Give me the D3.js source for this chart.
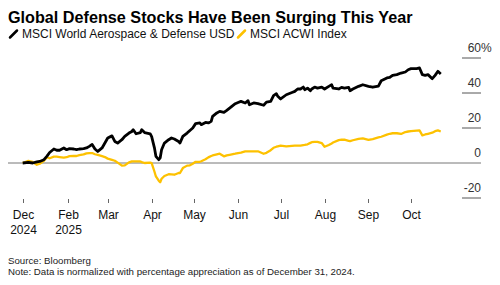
<!DOCTYPE html>
<html>
<head>
<meta charset="utf-8">
<script src="https://cdn.jsdelivr.net/npm/d3@7"></script>
<style>
  html, body { margin: 0; padding: 0; background: #fff; }
  svg { display: block; font-family: "Liberation Sans", Arial, Helvetica, sans-serif; }
</style>
</head>
<body>
<div id="chart"></div>
<script>
const title = "Global Defense Stocks Have Been Surging This Year";
const seriesNames = ["MSCI World Aerospace & Defense USD", "MSCI ACWI Index"];
const seriesColors = ["#000000", "#FDC100"];

const dates = [
  "2024-12-31","2025-01-04","2025-01-07","2025-01-10","2025-01-12","2025-01-15","2025-01-17","2025-01-19",
  "2025-01-22","2025-01-24","2025-01-26","2025-01-29","2025-01-31","2025-02-02","2025-02-05","2025-02-07",
  "2025-02-09","2025-02-12","2025-02-14","2025-02-16","2025-02-18","2025-02-20","2025-02-22","2025-02-25",
  "2025-02-27","2025-03-01","2025-03-04","2025-03-06","2025-03-08","2025-03-11","2025-03-13","2025-03-16",
  "2025-03-18","2025-03-19","2025-03-21","2025-03-24","2025-03-25","2025-03-27","2025-03-31","2025-04-01",
  "2025-04-03","2025-04-04","2025-04-06","2025-04-07","2025-04-08","2025-04-10","2025-04-13","2025-04-15",
  "2025-04-17","2025-04-20","2025-04-21","2025-04-23","2025-04-26","2025-04-28","2025-04-30","2025-05-02",
  "2025-05-05","2025-05-06","2025-05-09","2025-05-11","2025-05-13","2025-05-14","2025-05-17","2025-05-19",
  "2025-05-22","2025-05-24","2025-05-26","2025-05-30","2025-06-01","2025-06-03","2025-06-06","2025-06-08",
  "2025-06-09","2025-06-12","2025-06-15","2025-06-19","2025-06-21","2025-06-24","2025-06-26","2025-06-28",
  "2025-06-29","2025-07-01","2025-07-05","2025-07-09","2025-07-11","2025-07-13","2025-07-15","2025-07-17",
  "2025-07-18","2025-07-20","2025-07-22","2025-07-23","2025-07-25","2025-07-27","2025-07-30","2025-08-01",
  "2025-08-04","2025-08-06","2025-08-07","2025-08-11","2025-08-13","2025-08-15","2025-08-18","2025-08-19",
  "2025-08-21","2025-08-25","2025-08-28","2025-09-01","2025-09-04","2025-09-08","2025-09-10","2025-09-14",
  "2025-09-16","2025-09-18","2025-09-21","2025-09-24","2025-09-27","2025-09-29","2025-10-01","2025-10-05",
  "2025-10-07","2025-10-09","2025-10-11","2025-10-13","2025-10-16","2025-10-18","2025-10-20","2025-10-22"
];

const aerospace = [
  0, 0.3, 0, 0.6, 0.9, 1.9, 3.8, 6.0,
  8.0, 7.3, 7.3, 8.6, 7.6, 8.2, 8.0, 7.6,
  8.0, 8.2, 8.6, 9.5, 10.6, 8.0, 6.6, 8.6,
  11.4, 14.3, 15.5, 12.3, 11.4, 13.3, 15.2, 17.1,
  18.0, 19.0, 16.7, 17.4, 19.0, 17.4, 16.7, 15.1,
  8.5, 3.8, 1.9, 2.9, 7.6, 11.4, 13.3, 14.3,
  13.7, 12.3, 11.4, 15.2, 17.1, 18.6, 20.0, 22.5,
  22.9, 21.9, 23.2, 22.9, 23.8, 26.6, 28.6, 29.5,
  28.9, 30.1, 31.4, 33.9, 34.6, 35.2, 34.3, 35.6,
  33.3, 34.3, 33.9, 33.0, 34.8, 35.2, 38.5, 39.6,
  38.1, 36.6, 39.0, 40.3, 40.9, 42.3, 42.3, 43.4,
  41.9, 42.8, 41.3, 42.3, 43.4, 42.8, 43.4, 42.3,
  43.8, 44.7, 42.8, 42.3, 43.2, 42.8, 43.2, 41.3,
  42.3, 43.8, 44.7, 43.8, 43.3, 43.9, 47.0, 48.6,
  48.9, 50.1, 50.5, 51.4, 52.0, 53.3, 53.9, 53.9,
  54.3, 50.5, 50.1, 50.5, 48.2, 50.1, 52.4, 50.9
];

const acwi = [
  0, 1.2, 0.6, -1.0, -0.4, 1.3, 3.3, 2.7,
  3.6, 3.6, 3.4, 3.1, 3.3, 3.9, 4.0, 4.0,
  4.5, 4.9, 5.5, 5.7, 5.7, 5.0, 4.6, 3.9,
  3.4, 2.5, 1.8, 1.3, 0.2, -1.5, -1.4, 0.4,
  0.9, 0.9, 0.9, 0.9, 0.5, 0, 0.2, -0.1,
  -5.0, -7.7, -10.1, -11.0, -9.0, -7.4, -6.4, -6.5,
  -6.7, -5.7, -5.7, -2.9, -1.5, -1.3, -0.4, 0.7,
  0.7, 1.0, 2.1, 3.2, 4.0, 4.3, 4.9, 5.3,
  3.8, 4.4, 4.7, 5.3, 5.7, 5.9, 6.6, 6.6,
  6.6, 6.7, 6.7, 5.3, 5.8, 7.3, 8.7, 9.3,
  9.5, 9.9, 9.5, 9.8, 9.9, 9.9, 9.9, 10.2,
  10.3, 10.7, 11.5, 11.9, 12.1, 12.1, 11.4, 9.3,
  10.3, 11.2, 11.7, 13.1, 13.3, 13.3, 12.7, 12.5,
  13.0, 13.8, 14.1, 13.2, 13.7, 14.6, 15.0, 16.2,
  16.7, 17.0, 17.0, 16.6, 17.7, 18.0, 18.2, 18.5,
  18.6, 15.8, 16.3, 16.7, 17.3, 18.2, 18.6, 18.0
];

const xTickDates = ["2024-12-31","2025-02-01","2025-03-01","2025-04-01","2025-05-01","2025-06-01","2025-07-01","2025-08-01","2025-09-01","2025-10-01"];
const xTickMonths = ["Dec","Feb","Mar","Apr","May","Jun","Jul","Aug","Sep","Oct"];
const xTickYears = ["2024","2025","","","","","","","",""];
const yTicks = [60, 40, 20, 0, -20];
const sourceText = "Source: Bloomberg";
const noteText = "Note: Data is normalized with percentage appreciation as of December 31, 2024.";

const W = 500, H = 285;
const parse = d3.timeParse("%Y-%m-%d");
const svg = d3.select("#chart").append("svg").attr("width", W).attr("height", H);

const x = d3.scaleTime()
  .domain([parse("2024-12-31"), parse("2025-10-01")])
  .range([22.7, 411]);
const y = d3.scaleLinear().domain([-20, 60]).range([198, 58]);

// Title
svg.append("text").attr("x", 8).attr("y", 22.5)
  .attr("font-size", 16.2).attr("font-weight", "bold").attr("fill", "#000")
  .text(title);

// Legend
const legendX = [8, 236];
seriesNames.forEach((name, i) => {
  const g = svg.append("g").attr("transform", `translate(${legendX[i]},0)`);
  g.append("line").attr("x1", 2).attr("y1", 37.5).attr("x2", 9).attr("y2", 30.5)
    .attr("stroke", seriesColors[i]).attr("stroke-width", 2.5).attr("stroke-linecap", "round");
  g.append("text").attr("x", 14).attr("y", 37.5).attr("font-size", 12).attr("fill", "#111").text(name);
});

// Y axis (right)
const yAxis = svg.append("g");
yTicks.forEach(t => {
  const yy = y(t);
  if (t !== 0) {
    yAxis.append("line").attr("x1", 462).attr("x2", 481).attr("y1", yy).attr("y2", yy)
      .attr("stroke", "#555").attr("stroke-width", 1);
  }
  yAxis.append("text").attr("x", 481).attr("y", yy - 6).attr("text-anchor", "end")
    .attr("font-size", 12).attr("fill", "#333").text(t);
  if (t === 60) {
    yAxis.append("text").attr("x", 481).attr("y", yy - 6).attr("text-anchor", "start")
      .attr("font-size", 12).attr("fill", "#333").text("%");
  }
});
// zero line
svg.append("line").attr("x1", 8).attr("x2", 481).attr("y1", y(0)).attr("y2", y(0))
  .attr("stroke", "#777").attr("stroke-width", 1);

// X axis ticks
const xAxis = svg.append("g");
xTickDates.forEach((d, i) => {
  const xx = Math.round(x(parse(d))) + 0.5;
  xAxis.append("line").attr("x1", xx).attr("x2", xx).attr("y1", 199).attr("y2", 203)
    .attr("stroke", "#666").attr("stroke-width", 1);
  xAxis.append("text").attr("x", xx).attr("y", 218.5).attr("text-anchor", "middle")
    .attr("font-size", 12).attr("fill", "#111").text(xTickMonths[i]);
  if (xTickYears[i]) {
    xAxis.append("text").attr("x", xx).attr("y", 233.5).attr("text-anchor", "middle")
      .attr("font-size", 12).attr("fill", "#111").text(xTickYears[i]);
  }
});

// Lines
const parsedDates = dates.map(parse);
const line = d3.line().x((d, i) => x(parsedDates[i])).y(d => y(d));
[acwi, aerospace].forEach((vals, k) => {
  const idx = k === 0 ? 1 : 0;
  svg.append("path").datum(vals).attr("d", line)
    .attr("fill", "none").attr("stroke", seriesColors[idx])
    .attr("stroke-width", idx === 0 ? 2.8 : 2.3).attr("stroke-linejoin", "round");
});

// Footer
svg.append("text").attr("x", 8).attr("y", 263.5).attr("font-size", 9.7).attr("fill", "#222").text(sourceText);
svg.append("text").attr("x", 8).attr("y", 274.5).attr("font-size", 9.7).attr("fill", "#222").text(noteText);
</script>
</body>
</html>
